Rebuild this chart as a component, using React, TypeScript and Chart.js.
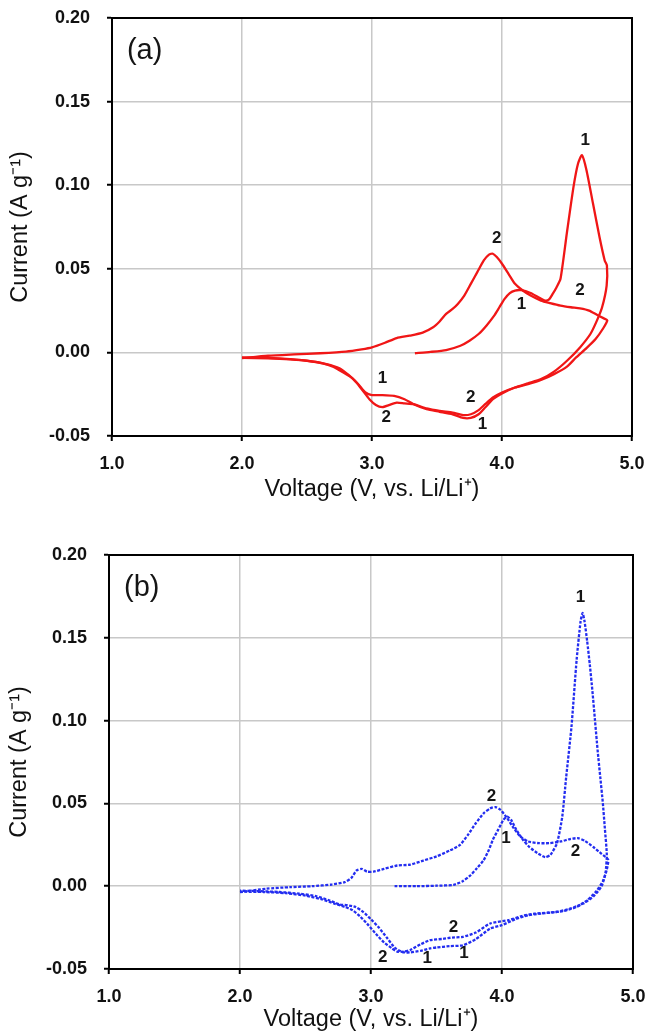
import React, { useEffect, useRef } from "react";
import { Chart, registerables } from "chart.js";

Chart.register(...registerables);

// ---------- axes ----------
const xTickValues = [1, 2, 3, 4, 5];
const yTickValues = [-0.05, 0, 0.05, 0.1, 0.15, 0.2];
const xTitle = "Voltage (V, vs. Li/Li\u207A)";
const yTitle = "Current (A g\u207B\u00B9)";

// ---------- panel (a) ----------
const aCycle1Voltage = [
  3.33, 3.45, 3.57, 3.68, 3.75, 3.82, 3.88, 3.94, 3.98, 4.02, 4.06, 4.1, 4.15, 4.22, 4.28, 4.33, 4.36, 4.39, 4.42,
  4.45, 4.5, 4.55, 4.585, 4.615, 4.65, 4.7, 4.75, 4.79, 4.807,
  4.805, 4.77, 4.73, 4.68, 4.6, 4.5, 4.4, 4.3, 4.2, 4.1, 4.0, 3.93, 3.87, 3.82, 3.76, 3.7, 3.62, 3.52, 3.42, 3.32,
  3.25, 3.17, 3.08, 3.0, 2.95, 2.9, 2.85, 2.78, 2.7, 2.62, 2.5, 2.37, 2.2, 2.0,
];
const aCycle1Current = [
  -0.0005, 0.0003, 0.0014, 0.004, 0.007, 0.011, 0.016, 0.022, 0.027, 0.032, 0.0355, 0.037, 0.0372, 0.0355, 0.033,
  0.031, 0.0315, 0.035, 0.039, 0.044, 0.072, 0.099, 0.113, 0.118, 0.109, 0.089, 0.069, 0.055, 0.052,
  0.04, 0.027, 0.019, 0.011, 0.003, -0.005, -0.0115, -0.016, -0.0185, -0.021, -0.0245, -0.028, -0.033, -0.037,
  -0.0392, -0.0392, -0.037, -0.0355, -0.034, -0.031, -0.028, -0.026, -0.0255, -0.0255, -0.024, -0.0195, -0.0155,
  -0.012, -0.0085, -0.0065, -0.005, -0.004, -0.0033, -0.003,
];
const aCycle2Voltage = [
  2.0, 2.2, 2.4, 2.6, 2.8, 2.92, 3.0, 3.1, 3.19, 3.29, 3.39, 3.47, 3.52, 3.57, 3.62, 3.66, 3.71, 3.76, 3.81, 3.86,
  3.9, 3.93, 3.96, 4.0, 4.05, 4.1, 4.16, 4.22, 4.3, 4.37, 4.45, 4.53, 4.6, 4.67, 4.73, 4.78, 4.81,
  4.78, 4.72, 4.65, 4.57, 4.5, 4.4, 4.3, 4.2, 4.1, 4.0, 3.93, 3.87, 3.82, 3.76, 3.7, 3.62, 3.52, 3.42, 3.32, 3.25,
  3.19, 3.13, 3.08, 3.03, 2.98, 2.93, 2.88, 2.82, 2.75, 2.65, 2.52, 2.37, 2.2, 2.0,
];
const aCycle2Current = [
  -0.0035, -0.002, -0.0012, -0.0005, 0.0005, 0.0018, 0.003, 0.0058, 0.0086, 0.01, 0.0118, 0.015, 0.0185, 0.023,
  0.026, 0.029, 0.034, 0.041, 0.048, 0.055, 0.0585, 0.059, 0.057, 0.053, 0.047, 0.041, 0.037, 0.034, 0.031, 0.0295,
  0.028, 0.027, 0.0263, 0.025, 0.0225, 0.0205, 0.0192,
  0.0146, 0.008, 0.0026, -0.003, -0.0085, -0.013, -0.0165, -0.019, -0.021, -0.024, -0.027, -0.031, -0.0345, -0.037,
  -0.0375, -0.036, -0.035, -0.0335, -0.031, -0.0305, -0.03, -0.0315, -0.0327, -0.0315, -0.028, -0.023, -0.018,
  -0.0135, -0.0095, -0.007, -0.0052, -0.0042, -0.0036, -0.0033,
];
const aLabelText = ["1", "2", "1", "2", "1", "2", "2", "1"];
const aLabelVoltage = [4.64, 3.96, 4.15, 4.6, 3.08, 3.11, 3.76, 3.85];
const aLabelCurrent = [0.127, 0.0684, 0.029, 0.0373, -0.0153, -0.039, -0.0267, -0.043];

// ---------- panel (b) ----------
const bCycle1Voltage = [
  3.18, 3.35, 3.5, 3.63, 3.7, 3.76, 3.81, 3.86, 3.9, 3.93, 3.97, 4.01, 4.04, 4.07, 4.11, 4.16, 4.21, 4.27, 4.33,
  4.37, 4.42, 4.46, 4.49, 4.53, 4.57, 4.6, 4.615, 4.63, 4.65, 4.67, 4.69, 4.71, 4.73, 4.75, 4.77, 4.785, 4.8,
  4.79, 4.76, 4.7, 4.62, 4.52, 4.42, 4.3, 4.2, 4.1, 4.0, 3.91, 3.8, 3.7, 3.6, 3.5, 3.45, 3.38, 3.3, 3.24, 3.18, 3.12,
  3.06, 3.0, 2.94, 2.88, 2.82, 2.76, 2.68, 2.58, 2.45, 2.3, 2.15, 2.0,
];
const bCycle1Current = [
  0.0, 0.0, 0.0003, 0.0008, 0.003, 0.0066, 0.011, 0.0157, 0.022, 0.028, 0.034, 0.04, 0.042, 0.04, 0.034, 0.028,
  0.0236, 0.02, 0.0175, 0.019, 0.026, 0.042, 0.066, 0.096, 0.137, 0.16, 0.165, 0.16, 0.148, 0.134, 0.118, 0.1,
  0.082, 0.066, 0.05, 0.035, 0.019,
  0.008, 0.0, -0.006, -0.0105, -0.0135, -0.0155, -0.0165, -0.0175, -0.02, -0.0235, -0.0256, -0.032, -0.0357,
  -0.0362, -0.037, -0.0376, -0.039, -0.04, -0.0398, -0.037, -0.031, -0.025, -0.02, -0.0155, -0.0125, -0.0115,
  -0.011, -0.0085, -0.006, -0.0045, -0.0035, -0.003, -0.0027,
];
const bCycle2Voltage = [
  2.0, 2.2, 2.38, 2.55, 2.7, 2.8, 2.85, 2.89, 2.93, 2.97, 3.02, 3.1, 3.2, 3.3, 3.4, 3.5, 3.6, 3.68, 3.74, 3.8, 3.86,
  3.91, 3.95, 3.99, 4.04, 4.09, 4.14, 4.2, 4.28, 4.36, 4.45, 4.52, 4.58, 4.63, 4.7, 4.76, 4.81,
  4.8, 4.77, 4.72, 4.65, 4.57, 4.47, 4.35, 4.25, 4.15, 4.05, 3.91, 3.8, 3.7, 3.62, 3.55, 3.45, 3.38, 3.3, 3.25, 3.2,
  3.16, 3.1, 3.04, 2.98, 2.92, 2.86, 2.8, 2.72, 2.62, 2.5, 2.35, 2.18, 2.0,
];
const bCycle2Current = [
  -0.0036, -0.0015, -0.0006, 0.0, 0.001, 0.0025, 0.005, 0.0095, 0.0105, 0.0088, 0.0088, 0.0105, 0.0125, 0.013,
  0.0155, 0.018, 0.0215, 0.025, 0.031, 0.038, 0.044, 0.047, 0.0478, 0.046, 0.041, 0.035, 0.03, 0.027, 0.026, 0.026,
  0.027, 0.0285, 0.029, 0.0275, 0.0235, 0.0195, 0.016,
  0.01, 0.003, -0.003, -0.0085, -0.0125, -0.015, -0.016, -0.0165, -0.018, -0.0205, -0.0225, -0.028, -0.0306, -0.031,
  -0.0318, -0.0326, -0.035, -0.0385, -0.0395, -0.0395, -0.0375, -0.034, -0.029, -0.0235, -0.0185, -0.0145, -0.0125,
  -0.0105, -0.0078, -0.0057, -0.0042, -0.0035, -0.0033,
];
const bLabelText = ["1", "2", "1", "2", "2", "1", "1", "2"];
const bLabelVoltage = [4.6, 3.92, 4.03, 4.56, 3.63, 3.71, 3.43, 3.09];
const bLabelCurrent = [0.1747, 0.054, 0.029, 0.021, -0.0248, -0.0405, -0.0435, -0.043];

const FONT = '"Liberation Sans", Arial, sans-serif';

type PanelProps = {
  tag: string;
  color: string;
  dash: number[];
  c1v: number[];
  c1i: number[];
  c2v: number[];
  c2i: number[];
  lt: string[];
  lv: number[];
  li: number[];
  plotLeft: number;
  plotTop: number;
  plotRight: number;
  xAxisHeight: number;
  xTitlePadBottom: number;
  yTitlePad: number;
};

function toPoints(v: number[], i: number[]) {
  return v.map((x, k) => ({ x, y: i[k] }));
}

function Panel(p: PanelProps) {
  const ref = useRef<HTMLCanvasElement | null>(null);
  useEffect(() => {
    if (!ref.current) return;
    const decor = {
      id: "decor",
      afterDatasetsDraw(chart: any) {
        const { ctx, chartArea, scales } = chart;
        ctx.save();
        ctx.fillStyle = "#151515";
        ctx.font = `bold 17px ${FONT}`;
        ctx.textAlign = "center";
        ctx.textBaseline = "middle";
        p.lt.forEach((t, k) => {
          ctx.fillText(t, scales.x.getPixelForValue(p.lv[k]), scales.y.getPixelForValue(p.li[k]));
        });
        ctx.font = `29px ${FONT}`;
        ctx.textAlign = "left";
        ctx.fillText(p.tag, scales.x.getPixelForValue(1.115), scales.y.getPixelForValue(0.18));
        ctx.strokeStyle = "#000";
        ctx.lineWidth = 2;
        ctx.strokeRect(chartArea.left, chartArea.top, chartArea.right - chartArea.left, chartArea.bottom - chartArea.top);
        ctx.restore();
      },
    };
    const lineSet = (label: string, data: { x: number; y: number }[]) => ({
      label,
      data,
      showLine: true,
      borderColor: p.color,
      backgroundColor: p.color,
      borderWidth: 2.3,
      borderDash: p.dash,
      pointRadius: 0,
      tension: 0.2,
    });
    const chart = new Chart(ref.current, {
      type: "scatter",
      data: {
        datasets: [lineSet("1", toPoints(p.c1v, p.c1i)), lineSet("2", toPoints(p.c2v, p.c2i))],
      },
      options: {
        responsive: false,
        animation: false,
        layout: { padding: { left: 0, top: p.plotTop, right: 647 - p.plotRight, bottom: 0 } },
        plugins: { legend: { display: false }, tooltip: { enabled: false } },
        scales: {
          x: {
            type: "linear",
            min: 1,
            max: 5,
            afterBuildTicks: (s: any) => {
              s.ticks = xTickValues.map((value) => ({ value }));
            },
            afterFit: (s: any) => {
              s.height = p.xAxisHeight;
              s.paddingLeft = 0;
              s.paddingRight = 0;
            },
            ticks: {
              callback: (v: any) => Number(v).toFixed(1),
              font: { family: FONT, size: 18, weight: "bold" },
              color: "#111",
              padding: 12,
              maxRotation: 0,
            },
            grid: { color: "#c8c8c8", lineWidth: 1.5, tickLength: 5, tickColor: "#000", tickWidth: 2 },
            border: { display: true, color: "#000", width: 2 },
            title: {
              display: true,
              text: xTitle,
              font: { family: FONT, size: 23.5 },
              color: "#111",
              padding: { top: 0, bottom: p.xTitlePadBottom },
            },
          },
          y: {
            type: "linear",
            min: -0.05,
            max: 0.2,
            afterBuildTicks: (s: any) => {
              s.ticks = yTickValues.map((value) => ({ value }));
            },
            afterFit: (s: any) => {
              s.width = p.plotLeft;
              s.paddingTop = 0;
              s.paddingBottom = 0;
            },
            ticks: {
              callback: (v: any) => Number(v).toFixed(2),
              font: { family: FONT, size: 18, weight: "bold" },
              color: "#111",
              padding: 17,
            },
            grid: { color: "#c8c8c8", lineWidth: 1.5, tickLength: 5, tickColor: "#000", tickWidth: 2 },
            border: { display: true, color: "#000", width: 2 },
            title: {
              display: true,
              text: yTitle,
              font: { family: FONT, size: 23.5 },
              color: "#111",
              padding: { top: p.yTitlePad, bottom: 0 },
            },
          },
        },
      },
      plugins: [decor],
    } as any);
    return () => chart.destroy();
  }, []);
  return <canvas ref={ref} width={647} height={518} style={{ display: "block", width: 647, height: 518 }} />;
}

export default function App() {
  return (
    <div style={{ position: "absolute", left: 0, top: 0, width: 647, height: 1036, background: "#fff" }}>
      <Panel
        tag="(a)"
        color="rgb(240,22,22)"
        dash={[]}
        c1v={aCycle1Voltage}
        c1i={aCycle1Current}
        c2v={aCycle2Voltage}
        c2i={aCycle2Current}
        lt={aLabelText}
        lv={aLabelVoltage}
        li={aLabelCurrent}
        plotLeft={112}
        plotTop={18}
        plotRight={632}
        xAxisHeight={82}
        xTitlePadBottom={14}
        yTitlePad={6}
      />
      <Panel
        tag="(b)"
        color="rgb(35,45,240)"
        dash={[3, 1.5]}
        c1v={bCycle1Voltage}
        c1i={bCycle1Current}
        c2v={bCycle2Voltage}
        c2i={bCycle2Current}
        lt={bLabelText}
        lv={bLabelVoltage}
        li={bLabelCurrent}
        plotLeft={109}
        plotTop={37}
        plotRight={633}
        xAxisHeight={67}
        xTitlePadBottom={2}
        yTitlePad={5}
      />
    </div>
  );
}
